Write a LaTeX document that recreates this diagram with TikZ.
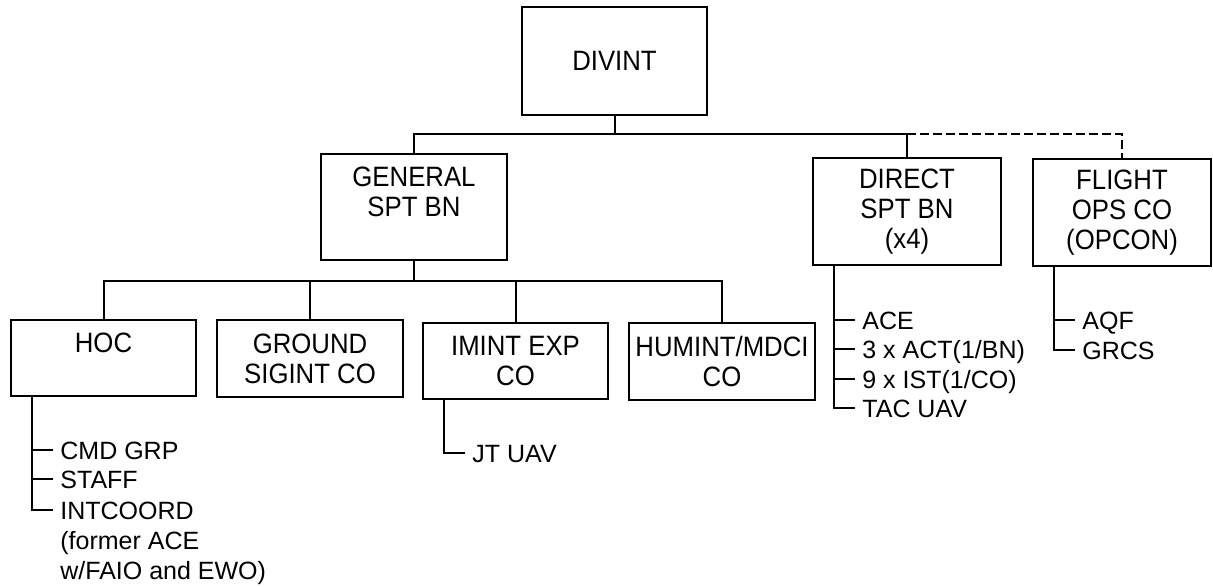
\documentclass[tikz,border=0pt]{standalone}
\usepackage{fontspec}
\setmainfont{Liberation Sans}
\newfontfamily\boxfont[FakeStretch=0.92]{Liberation Sans}
\usepackage{tikz}
\usetikzlibrary{positioning}

\begin{document}
\begin{tikzpicture}[x=0.5pt, y=-0.5pt,
    unit/.style={draw, line width=0.6pt, align=center, inner sep=0pt,
      font=\boxfont\fontsize{14pt}{15pt}\selectfont},
    item/.style={anchor=west, inner xsep=3.5pt, inner ysep=0pt,
      text height=9pt, text depth=0pt, font=\fontsize{12.5pt}{14.75pt}\selectfont},
    link/.style={line width=1pt}]
    \useasboundingbox (0,0) rectangle (1213,587);
    % units
    \node (divint) at (614.5,61) [unit, minimum width=92.5pt, minimum height=54pt] {DIVINT};
    \node (general) at (414,207) [unit, minimum width=93pt, minimum height=53pt] {GENERAL\\SPT BN\\~};
    \node (direct) at (907,211.5) [unit, minimum width=94pt, minimum height=53.5pt] {DIRECT\\SPT BN\\(x4)};
    \node (flight) at (1122,212.5) [unit, minimum width=89pt, minimum height=53.5pt] {FLIGHT\\OPS CO\\(OPCON)};
    \node (hoc) at (103.5,358) [unit, minimum width=92.5pt, minimum height=38pt] {HOC\\~};
    \node (ground) at (310,358.5) [unit, minimum width=93pt, minimum height=38.5pt] {GROUND\\SIGINT CO};
    \node (imint) at (515.5,361) [unit, minimum width=92.5pt, minimum height=38pt] {IMINT EXP\\CO};
    \node (humint) at (722,361.5) [unit, minimum width=93pt, minimum height=38.5pt] {HUMINT/MDCI\\CO};
    % sub elements
    \node (cmdgrp) at (53,450) [item] {CMD GRP};
    \node (staff) at (53,479) [item] {STAFF};
    \node (intcoord) at (53,510) [item] {INTCOORD};
    \node (former) at (53,540) [item] {(former ACE};
    \node (faio) at (53,570) [item] {w/FAIO and EWO)};
    \node (jtuav) at (465,453) [item] {JT UAV};
    \node (ace) at (855,320) [item] {ACE};
    \node (act) at (855,349) [item] {3 x ACT(1/BN)};
    \node (ist) at (855,379) [item] {9 x IST(1/CO)};
    \node (tacuav) at (855,408) [item] {TAC UAV};
    \node (aqf) at (1075,320) [item] {AQF};
    \node (grcs) at (1075,350) [item] {GRCS};
    % buses
    \coordinate (topbus) at (0,134);
    \coordinate (midbus) at (0,281);
    \draw[link] (divint.south) -- (divint.south |- topbus);
    \draw[link] (general.north) |- (direct.north |- topbus) -- (direct.north);
    \draw[link, dash pattern=on 4.5pt off 2pt] (direct.north |- topbus) -| (flight.north);
    \draw[link] (general.south) -- (general.south |- midbus);
    \draw[link] (hoc.north) |- (humint.north |- midbus) -- (humint.north);
    \draw[link] (ground.north) -- (ground.north |- midbus);
    \draw[link] (imint.north) -- (imint.north |- midbus);
    % lists
    \draw[link] ([xshift=11pt]hoc.south west) |- (intcoord.west);
    \draw[link] (cmdgrp.west) -- ++(-20,0);
    \draw[link] (staff.west) -- ++(-20,0);
    \draw[link] ([xshift=11pt]imint.south west) |- (jtuav.west);
    \draw[link] ([xshift=11pt]direct.south west) |- (tacuav.west);
    \draw[link] (ace.west) -- ++(-20,0);
    \draw[link] (act.west) -- ++(-20,0);
    \draw[link] (ist.west) -- ++(-20,0);
    \draw[link] ([xshift=11pt]flight.south west) |- (grcs.west);
    \draw[link] (aqf.west) -- ++(-20,0);
\end{tikzpicture}
\end{document}
